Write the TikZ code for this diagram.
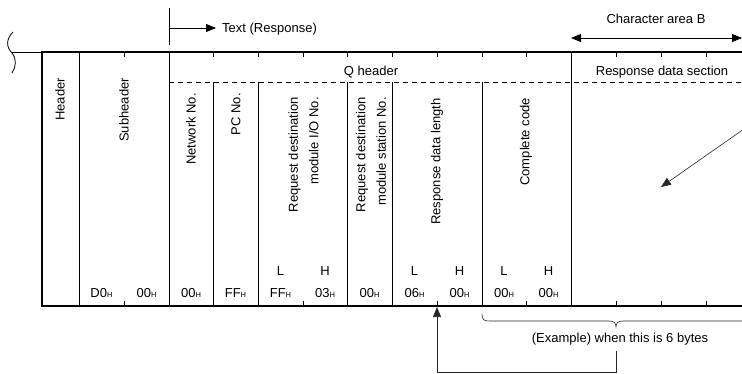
\documentclass[tikz,border=0pt]{standalone}
\usepackage{fontspec}
\setmainfont{Liberation Sans}
\usetikzlibrary{arrows.meta}
\newcommand\hexv[1]{#1{\fontsize{7.5}{8}\selectfont H}}
\begin{document}
\begin{tikzpicture}[x=1pt,y=-1pt,
  txt/.style={inner sep=0pt, font=\fontsize{13}{20.5}\selectfont},
  vtxt/.style={txt, rotate=90, anchor=east, align=right},
  frameline/.style={line width=1.9pt},
  thinline/.style={line width=0.8pt},
  fineline/.style={line width=0.6pt, black!85},
  tipA/.style={-{Triangle[length=10pt,width=8pt]}},
  tipB/.style={{Triangle[length=10pt,width=8pt]}-{Triangle[length=10pt,width=8pt]}},
  valtxt/.style={txt, anchor=base}]
\useasboundingbox (0,0) rectangle (742,374);

% break mark and top line
\draw[thinline] (13,32) .. controls (6,39) and (6,47) .. (12,53) .. controls (17,59) and (16,67) .. (12,73);
\draw[thinline] (12,52) -- (42,52);
\draw[frameline] (742,52) -- (42,52) -- (42,306) -- (742,306);

% full-height verticals
\foreach \x in {79,169,571} \draw[thinline] (\x,52) -- (\x,306);
% verticals below dashed line
\foreach \x in {213,258,347,392,482} {
  \draw[thinline] (\x,82) -- (\x,306);
  \draw[thinline] (\x,52) -- (\x,57);
}
% byte ticks
\foreach \x in {124,303,437,526,616,661,706} {
  \draw[thinline] (\x,52) -- (\x,57);
  \draw[thinline] (\x,301) -- (\x,306);
}
% dashed line
\draw[thinline, dash pattern=on 5pt off 4pt] (169,82) -- (742,82);

% Text (Response)
\coordinate (ttop) at (169,8);
\coordinate (tbot) at (169,45);
\draw[thinline] (ttop) -- (tbot);
\coordinate (tstart) at (169,28);
\coordinate (tend) at (216,28);
\node[txt, anchor=base west] (textresp) at (222,32.5) {Text (Response)};
\draw[thinline, tipA] (tstart) -- (tend);
% Character area B
\node[txt, anchor=base] (charB) at (656,23.5) {Character area B};
\coordinate (cbL) at (571,38);
\coordinate (cbR) at (742,38);
\draw[thinline, tipB] (cbL) -- (cbR);

% section titles
\node[txt, anchor=base] (qh) at (371,75.5) {Q header};
\node[txt, anchor=base] (rds) at (662,75.5) {Response data section};

% rotated labels
\node[vtxt] (hdr) at (60,78) {Header};
\node[vtxt] (sub) at (124,78) {Subheader};
\node[vtxt] (net) at (191,93) {Network No.};
\node[vtxt] (pcn) at (236,93) {PC No.};
\node[vtxt] (rdio) at (303.5,97) {Request destination\\module I/O No.};
\node[vtxt] (rdst) at (371,97) {Request destination\\module station No.};
\node[vtxt] (rdl) at (437,98) {Response data length};
\node[vtxt] (cc) at (526,98) {Complete code};

% L/H
\node[valtxt] (l1) at (280.5,275.5) {L};
\node[valtxt] (h1) at (325,275.5) {H};
\node[valtxt] (l2) at (414.5,275.5) {L};
\node[valtxt] (h2) at (459.5,275.5) {H};
\node[valtxt] (l3) at (504,275.5) {L};
\node[valtxt] (h3) at (548.5,275.5) {H};

% values
\node[valtxt] (v1) at (101.5,297.5) {\hexv{D0}};
\node[valtxt] (v2) at (146.5,297.5) {\hexv{00}};
\node[valtxt] (v3) at (191,297.5) {\hexv{00}};
\node[valtxt] (v4) at (235.5,297.5) {\hexv{FF}};
\node[valtxt] (v5) at (280.5,297.5) {\hexv{FF}};
\node[valtxt] (v6) at (325,297.5) {\hexv{03}};
\node[valtxt] (v7) at (369.5,297.5) {\hexv{00}};
\node[valtxt] (v8) at (414.5,297.5) {\hexv{06}};
\node[valtxt] (v9) at (459.5,297.5) {\hexv{00}};
\node[valtxt] (v10) at (504,297.5) {\hexv{00}};
\node[valtxt] (v11) at (548.5,297.5) {\hexv{00}};

% diagonal arrow into data section
\coordinate (dgS) at (744,129);
\coordinate (dgE) at (661,187);
\draw[fineline, tipA] (dgS) -- (dgE);

% brace and example text
\draw[fineline] (482,314) .. controls (482,320) and (484,321) .. (490,321) -- (609,321)
  .. controls (614,321) and (616,323) .. (616,327)
  .. controls (616,323) and (618,321) .. (623,321) -- (742,321);
\node[txt, anchor=base] (ex) at (620,342.5) {(Example) when this is 6 bytes};
\coordinate (exB) at (616,351);
\coordinate (cr1) at (616,372);
\coordinate (cr2) at (437,372);
\coordinate (lenT) at (437,307);
\draw[fineline, tipA] (exB) -- (cr1) -- (cr2) -- (lenT);
\end{tikzpicture}
\end{document}
